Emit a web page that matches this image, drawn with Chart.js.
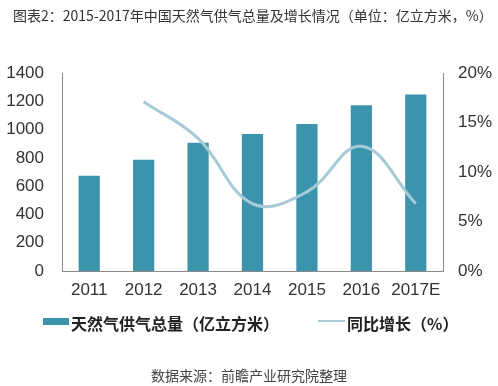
<!DOCTYPE html>
<html>
<head>
<meta charset="utf-8">
<script src="https://cdn.jsdelivr.net/npm/chart.js@4"></script>
<style>
  body { margin: 0; background: #fff; }
  #wrap { position: relative; width: 498px; height: 386px; overflow: hidden; }
  #chart { position: absolute; left: 0; top: 0; }
  .txt { position: absolute; white-space: nowrap; color: #333; font-family: "Noto Sans CJK SC", sans-serif; }
  #title { left: 13px; top: 5px; font-size: 14px; }
  #source { left: 0; width: 498px; text-align: center; top: 365px; font-size: 14px; color: #444; }
  .legend { top: 311px; font-size: 16px; font-weight: bold; color: #222; }
  .sw { position: absolute; }
</style>
</head>
<body>
<div id="wrap">
  <canvas id="chart" width="498" height="386"></canvas>
  <div class="txt" id="title">图表2：2015-2017年中国天然气供气总量及增长情况（单位：亿立方米，%）</div>
  <div class="sw" style="left:43px; top:318px; width:26px; height:7px; background:#3b94ac;"></div>
  <div class="txt legend" style="left:71px;">天然气供气总量（亿立方米）</div>
  <div class="sw" style="left:318px; top:320px; width:27px; height:2px; background:#a6cad6;"></div>
  <div class="txt legend" style="left:347px;">同比增长（%）</div>
  <div class="txt" id="source">数据来源：前瞻产业研究院整理</div>
</div>
<script>
const years = ['2011', '2012', '2013', '2014', '2015', '2016', '2017E'];
const supply = [674, 787, 906, 969, 1040, 1172, 1248];   // 亿立方米
const growth = [null, 17.1, 13.4, 6.8, 8.0, 12.6, 6.8];  // %

const tickFont = { family: 'Liberation Sans, Arial, sans-serif', size: 17 };

const ctx = document.getElementById('chart').getContext('2d');
new Chart(ctx, {
    data: {
        labels: years,
        datasets: [{
            type: 'line',
            label: '同比增长（%）',
            data: growth,
            yAxisID: 'y2',
            borderColor: '#a6cad6',
            borderWidth: 3,
            pointRadius: 0,
            tension: 0.4,
            order: 0
        }, {
            type: 'bar',
            label: '天然气供气总量（亿立方米）',
            data: supply,
            yAxisID: 'y',
            backgroundColor: '#3b94ac',
            barPercentage: 0.39,
            categoryPercentage: 1,
            order: 1
        }]
    },
    options: {
        responsive: false,
        animation: false,
        layout: { padding: { left: 0, right: 0, top: 73, bottom: 85 } },
        plugins: { legend: { display: false }, tooltip: { enabled: false } },
        scales: {
            x: {
                grid: { display: false, drawTicks: false },
                border: { color: '#8a8a8a' },
                ticks: { color: '#333', font: tickFont, padding: 9, maxRotation: 0 },
                afterFit: s => { s.height = 30; }
            },
            y: {
                position: 'left',
                min: 0, max: 1400,
                grid: { display: false, drawTicks: false },
                border: { color: '#8a8a8a' },
                ticks: { stepSize: 200, color: '#333', font: tickFont, padding: 18, callback: v => String(v) },
                afterFit: s => { s.width = 62; }
            },
            y2: {
                position: 'right',
                min: 0, max: 20,
                grid: { display: false, drawTicks: false },
                border: { color: '#8a8a8a' },
                ticks: { stepSize: 5, color: '#333', font: tickFont, padding: 15, callback: v => v + '%' },
                afterFit: s => { s.width = 55; }
            }
        }
    }
});
</script>
</body>
</html>
